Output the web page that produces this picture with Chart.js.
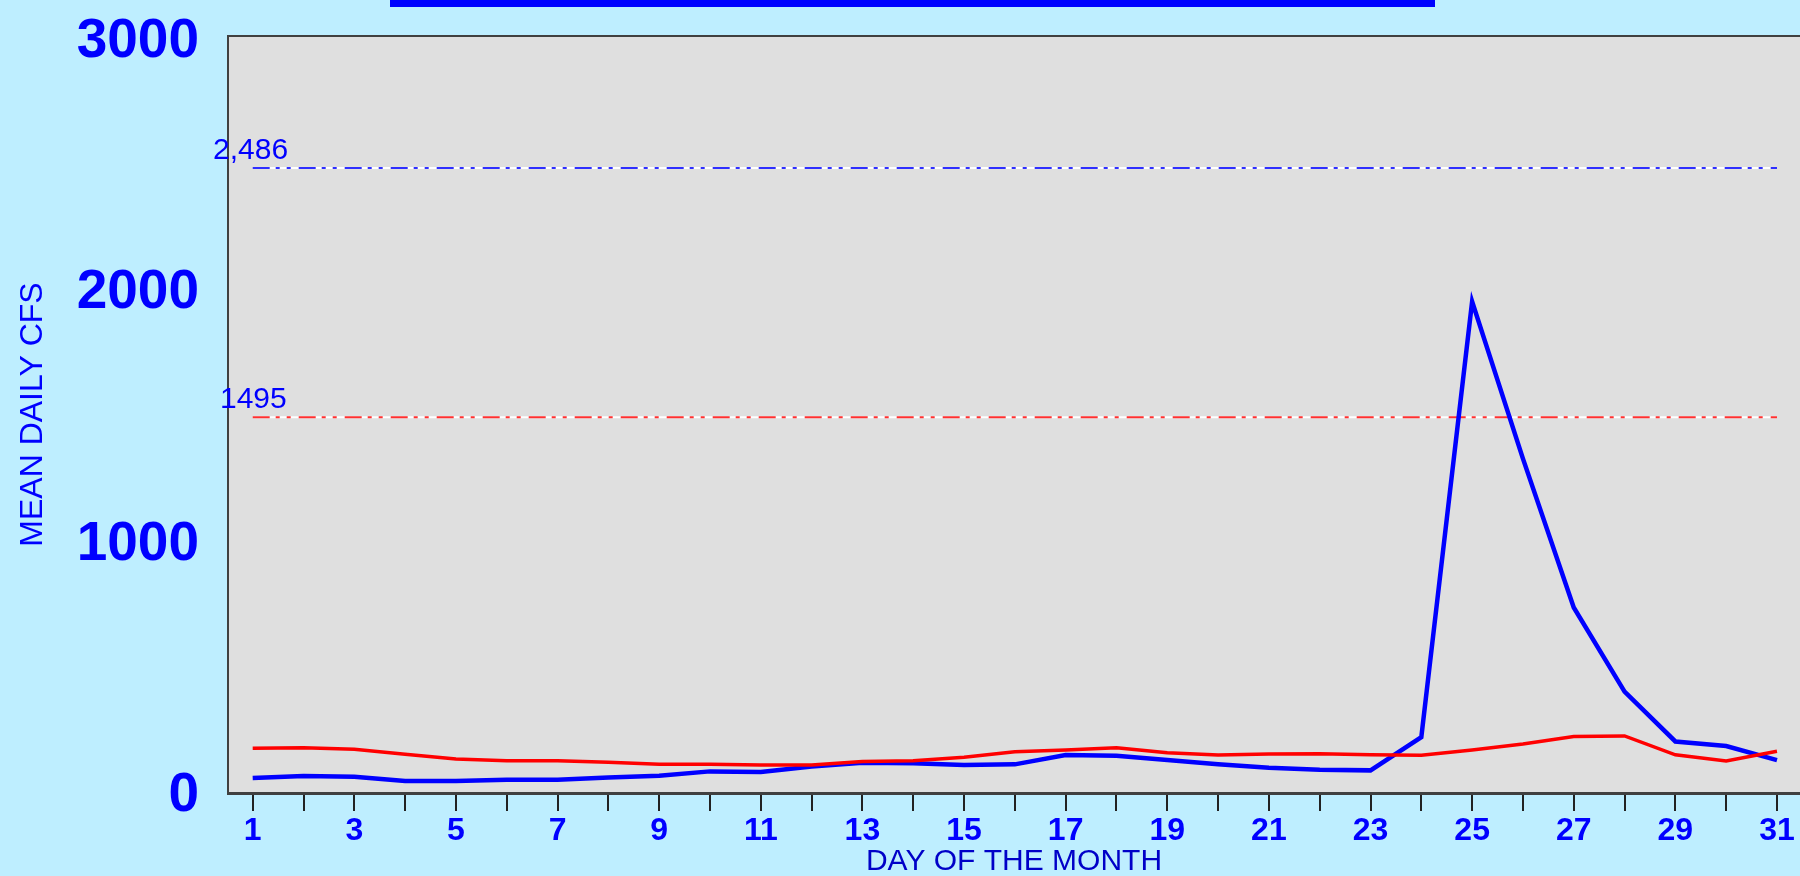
<!DOCTYPE html>
<html>
<head>
<meta charset="utf-8">
<script src="https://cdn.jsdelivr.net/npm/chart.js@4.4.1/dist/chart.umd.min.js"></script>
<style>
  html, body { margin: 0; padding: 0; background: #BEEEFF; overflow: hidden; }
  #c { display: block; }
</style>
</head>
<body>
<canvas id="c" width="1800" height="876"></canvas>
<script>
// ---- data ----
const days = [1,2,3,4,5,6,7,8,9,10,11,12,13,14,15,16,17,18,19,20,21,22,23,24,25,26,27,28,29,30,31];
const dailyFlow = [60,68,65,48,48,53,53,62,69,86,84,105,120,118,111,114,151,148,131,114,100,92,90,222,1955,1330,738,403,205,187,131];
const meanFlow  = [178,180,174,154,135,128,128,122,114,114,111,111,125,128,142,164,171,180,160,151,155,156,152,150,171,195,225,227,152,127,166];
const yTicks = [0, 1000, 2000, 3000];
const refHigh = 2486;
const refHighLabel = '2,486';
const refMean = 1495;
const refMeanLabel = '1495';

const FONT = "'Liberation Sans', Arial, Helvetica, sans-serif";
const BLUE = '#0000FF';
const RED = '#FF0000';

const toPts = (arr) => days.map((d, i) => ({ x: d, y: arr[i] }));
const refPts = (v) => [{ x: days[0], y: v }, { x: days[days.length - 1], y: v }];
const dashPattern = [17, 6, 4, 7, 4, 8];

const decor = {
  id: 'decor',
  beforeDraw(chart) {
    const { ctx, chartArea: a } = chart;
    ctx.save();
    ctx.fillStyle = '#BEEEFF';
    ctx.fillRect(0, 0, chart.width, chart.height);
    ctx.fillStyle = '#DFDFDF';
    ctx.fillRect(a.left, a.top, a.right - a.left, a.bottom - a.top);
    ctx.strokeStyle = '#404040';
    ctx.lineWidth = 2;
    ctx.beginPath();
    ctx.moveTo(a.left, a.top);
    ctx.lineTo(a.right, a.top);
    ctx.stroke();
    // top title bar
    ctx.fillStyle = '#0000FF';
    ctx.fillRect(390, 0, 1045, 7);
    ctx.restore();
  },
  afterDatasetsDraw(chart) {
    const { ctx, chartArea: a, scales: { y } } = chart;
    ctx.save();
    ctx.font = '30px ' + FONT;
    ctx.fillStyle = BLUE;
    ctx.textBaseline = 'alphabetic';
    ctx.textAlign = 'left';
    ctx.fillText(refHighLabel, a.left - 15, y.getPixelForValue(refHigh) - 9);
    ctx.fillText(refMeanLabel, a.left - 8, y.getPixelForValue(refMean) - 9);
    ctx.restore();
  }
};

new Chart(document.getElementById('c'), {
  type: 'line',
  data: {
    datasets: [
      { data: refPts(refHigh), borderColor: '#FFFFFF', borderWidth: 2, pointRadius: 0, order: 9 },
      { data: refPts(refMean), borderColor: '#FFFFFF', borderWidth: 2, pointRadius: 0, order: 8 },
      { data: refPts(refHigh), borderColor: '#2F2FFF', borderWidth: 2, borderDash: dashPattern, pointRadius: 0, order: 7 },
      { data: refPts(refMean), borderColor: '#FF3030', borderWidth: 2, borderDash: dashPattern, pointRadius: 0, order: 6 },
      { data: toPts(dailyFlow), borderColor: BLUE, borderWidth: 4.5, pointRadius: 0, tension: 0, order: 2 },
      { data: toPts(meanFlow), borderColor: RED, borderWidth: 3.5, pointRadius: 0, tension: 0, order: 1 }
    ]
  },
  options: {
    responsive: false,
    animation: false,
    devicePixelRatio: 1,
    layout: { autoPadding: false, padding: { top: 36, left: 0, right: 0, bottom: 0 } },
    plugins: { legend: { display: false }, tooltip: { enabled: false }, title: { display: false } },
    scales: {
      x: {
        type: 'linear',
        min: 0.514,
        max: 31.453,
        afterBuildTicks: (s) => { s.ticks = days.map(v => ({ value: v })); },
        afterFit: (s) => { s.height = 83; },
        grid: { display: true, drawOnChartArea: false, drawTicks: true, tickLength: 18, color: '#222222', lineWidth: 2 },
        border: { display: true, color: '#404040', width: 3 },
        ticks: {
          autoSkip: false, maxRotation: 0, minRotation: 0,
          padding: 4,
          color: BLUE,
          font: { family: FONT, size: 32, weight: 'bold', lineHeight: 1 },
          callback: (v) => (v % 2 === 1 ? String(v) : '')
        },
        title: {
          display: true, text: 'DAY OF THE MONTH', color: '#0000C8',
          font: { family: FONT, size: 30, lineHeight: 1 },
          padding: { top: 0, bottom: -1 }
        }
      },
      y: {
        type: 'linear',
        min: 0,
        max: 3011,
        afterBuildTicks: (s) => { s.ticks = yTicks.map(v => ({ value: v })); },
        afterFit: (s) => { s.width = 228; },
        grid: { display: false },
        border: { display: true, color: '#404040', width: 2 },
        ticks: {
          padding: 21,
          labelOffset: 3,
          color: BLUE,
          font: { family: FONT, size: 55, weight: 'bold', lineHeight: 0.3 },
          callback: (v) => String(v)
        },
        title: {
          display: true, text: 'MEAN DAILY CFS', color: BLUE,
          font: { family: FONT, size: 32, lineHeight: 1 },
          padding: { top: 17, bottom: 0 }
        }
      }
    }
  },
  plugins: [decor]
});
</script>
</body>
</html>
